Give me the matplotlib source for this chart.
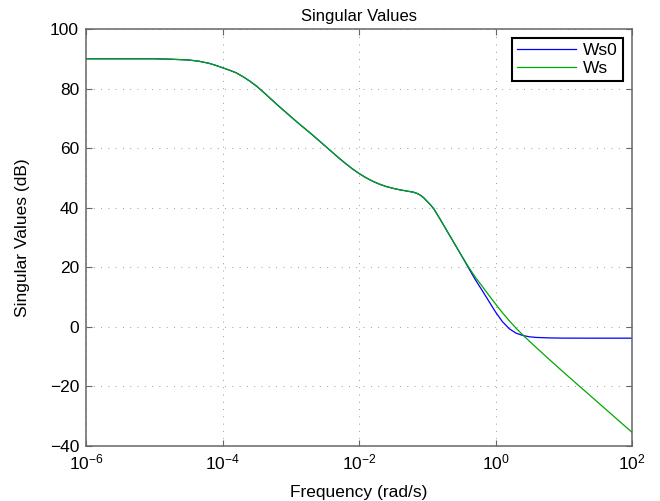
import numpy as np
import matplotlib
matplotlib.use("Agg")
import matplotlib.pyplot as plt
from matplotlib.ticker import FixedLocator, LogFormatterSciNotation, NullLocator

# ---- data (log10 of frequency in rad/s, magnitude in dB) ----
common_logf = [-6.0, -5.0, -4.75, -4.5, -4.35, -4.2, -4.1, -4.0, -3.9, -3.8,
               -3.7, -3.6, -3.5, -3.4, -3.3, -3.2, -3.1, -3.0, -2.9, -2.8,
               -2.7, -2.6, -2.5, -2.4, -2.3, -2.2, -2.1, -2.0, -1.9, -1.8,
               -1.7, -1.6, -1.5, -1.4, -1.3, -1.2, -1.15, -1.1, -1.05, -1.0,
               -0.95, -0.9, -0.85, -0.8, -0.7, -0.6, -0.5]
common_db = [90.0, 90.0, 89.85, 89.6, 89.2, 88.5, 87.8, 87.0, 86.2, 85.3,
             84.0, 82.5, 80.8, 78.8, 76.7, 74.6, 72.6, 70.6, 68.6, 66.7,
             64.8, 62.8, 60.8, 58.8, 56.8, 54.9, 53.1, 51.5, 50.1, 48.9,
             47.9, 47.1, 46.5, 46.0, 45.6, 45.2, 44.8, 44.2, 43.3, 42.1,
             40.9, 39.5, 37.6, 35.7, 31.8, 27.9, 24.0]

ws0_tail_logf = [-0.4, -0.3, -0.2, -0.1, 0.0, 0.1, 0.2, 0.3, 0.4, 0.5, 0.6, 0.8, 1.0, 1.5, 2.0]
ws0_tail_db = [20.0, 16.0, 12.4, 8.7, 5.0, 1.8, -0.6, -2.1, -2.9, -3.35, -3.55, -3.72, -3.78, -3.8, -3.8]

ws_tail_logf = [-0.4, -0.3, -0.2, -0.1, 0.0, 0.1, 0.2, 0.3, 0.4, 0.5, 0.6, 0.8, 1.0, 1.5, 2.0]
ws_tail_db = [20.3, 16.8, 13.8, 10.7, 7.7, 4.8, 2.1, -0.4, -2.7, -4.9, -7.0, -11.2, -15.3, -25.35, -35.4]

series_names = ["Ws0", "Ws"]
series_colors = ["#0000ff", "#00a800"]

xticks = [1e-6, 1e-4, 1e-2, 1e0, 1e2]
yticks = [-40, -20, 0, 20, 40, 60, 80, 100]

plt.rcParams['font.family'] = ['Liberation Sans', 'DejaVu Sans']
plt.rcParams['mathtext.fontset'] = 'custom'
plt.rcParams['mathtext.rm'] = 'Liberation Sans'
plt.rcParams['mathtext.it'] = 'Liberation Sans'

fig = plt.figure(figsize=(6.6, 5.01), dpi=100)
ax = fig.add_axes([86/660, 55/501, 546/660, 417/501])

f_ws0 = 10.0 ** np.array(common_logf + ws0_tail_logf)
f_ws = 10.0 ** np.array(common_logf + ws_tail_logf)
db_ws0 = np.array(common_db + ws0_tail_db)
db_ws = np.array(common_db + ws_tail_db)

ax.semilogx(f_ws0, db_ws0, color=series_colors[0], lw=0.9, label=series_names[0])
ax.semilogx(f_ws, db_ws, color=series_colors[1], lw=0.9, label=series_names[1])

ax.set_xlim(1e-6, 1e2)
ax.set_ylim(-40, 100)
ax.xaxis.set_major_locator(FixedLocator(xticks))
ax.xaxis.set_minor_locator(NullLocator())
ax.xaxis.set_major_formatter(LogFormatterSciNotation())
ax.set_yticks(yticks)

ax.grid(True, which='major', color='#9a9a9a', linestyle=(0, (1, 6.5)), lw=0.7)
for s in ax.spines.values():
    s.set_color('#666666')
    s.set_linewidth(1.1)
ax.tick_params(direction='in', length=4, width=0.8, color='#666666',
               top=True, right=True, labelsize=12.5, labelcolor='black', pad=5)

ax.set_title("Singular Values", fontsize=12, pad=6)
ax.set_xlabel("Frequency (rad/s)", fontsize=12.5, labelpad=9)
ax.set_ylabel("Singular Values (dB)", fontsize=12.5, labelpad=14)

leg = ax.legend(loc='upper right', fontsize=12.5, fancybox=False, framealpha=1,
                edgecolor='black', borderaxespad=0.5, handlelength=3.4,
                borderpad=0.3, labelspacing=0.15, handletextpad=0.4)
leg.get_frame().set_linewidth(1.5)

fig.savefig("out.png", dpi=100)
